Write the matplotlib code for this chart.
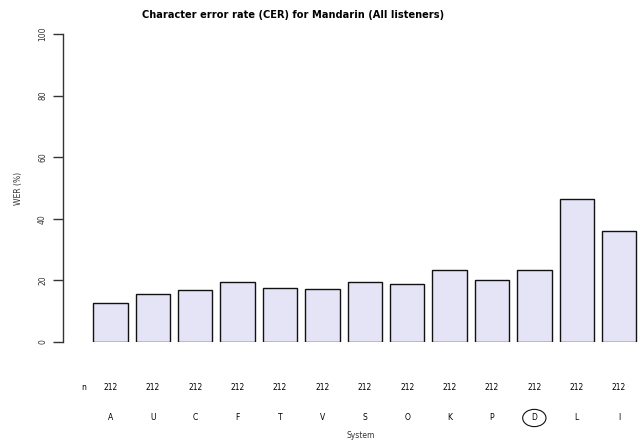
import numpy as np
import matplotlib
matplotlib.use("Agg")
import matplotlib.pyplot as plt
from matplotlib.patches import Ellipse

# data
systems = ["A", "U", "C", "F", "T", "V", "S", "O", "K", "P", "D", "L", "I"]
cer = [12.6, 15.5, 17.0, 19.6, 17.4, 17.2, 19.4, 18.7, 23.4, 20.1, 23.4, 46.4, 35.9]
n_counts = [212] * 13
highlight = "D"
yticks = [0, 20, 40, 60, 80, 100]

W, H = 642, 445
fig = plt.figure(figsize=(W / 100, H / 100), dpi=100)

# axes placed in pixel terms: left spine at x=63, y=0 at 342px, y=100 at 34px
left, right, bottom, top = 63, 642, 342, 34
ax = fig.add_axes([left / W, (H - bottom) / H, (right - left) / W, (bottom - top) / H])

x = np.arange(len(systems))
ax.bar(x, cer, width=0.81, color="#e4e4f6", edgecolor="#111111", linewidth=1.0)

ax.set_xlim(-1.12, 12.54)
ax.set_ylim(0, 100)
for s in ["top", "right", "bottom"]:
    ax.spines[s].set_visible(False)
ax.spines["left"].set_color("#333333")
ax.spines["left"].set_linewidth(1.0)
ax.set_xticks([])
ax.set_yticks(yticks)
ax.set_yticklabels([str(t) for t in yticks], rotation=90, va="center", fontsize=5.5, color="#333333")
ax.tick_params(axis="y", length=7, width=1.0, color="#333333", pad=4.5)
ax.set_ylabel("WER (%)", fontsize=5.5, color="#333333", labelpad=11)

# n row and system labels below the axes
tr = ax.get_xaxis_transform()
y_n = (bottom - 387) / (bottom - top)
y_sys = (bottom - 418) / (bottom - top)
ax.text(-0.64, y_n, "n", transform=tr, ha="center", va="center", fontsize=5.5, clip_on=False)
for xi, n, s in zip(x, n_counts, systems):
    ax.text(xi, y_n, str(n), transform=tr, ha="center", va="center", fontsize=5.5, clip_on=False)
    ax.text(xi, y_sys, s, transform=tr, ha="center", va="center", fontsize=5.5, clip_on=False)
    if s == highlight:
        ell = Ellipse((xi, y_sys), width=0.55, height=0.056, transform=tr,
                      fill=False, edgecolor="#111111", linewidth=0.8, clip_on=False)
        ax.add_patch(ell)

fig.text(361 / W, 1 - 436 / H, "System", ha="center", va="center", fontsize=5.5, color="#333333")
fig.text(293 / W, 1 - 15 / H, "Character error rate (CER) for Mandarin (All listeners)",
         ha="center", va="center", fontsize=7.1, fontweight="bold")

fig.savefig("out.png", dpi=100)
